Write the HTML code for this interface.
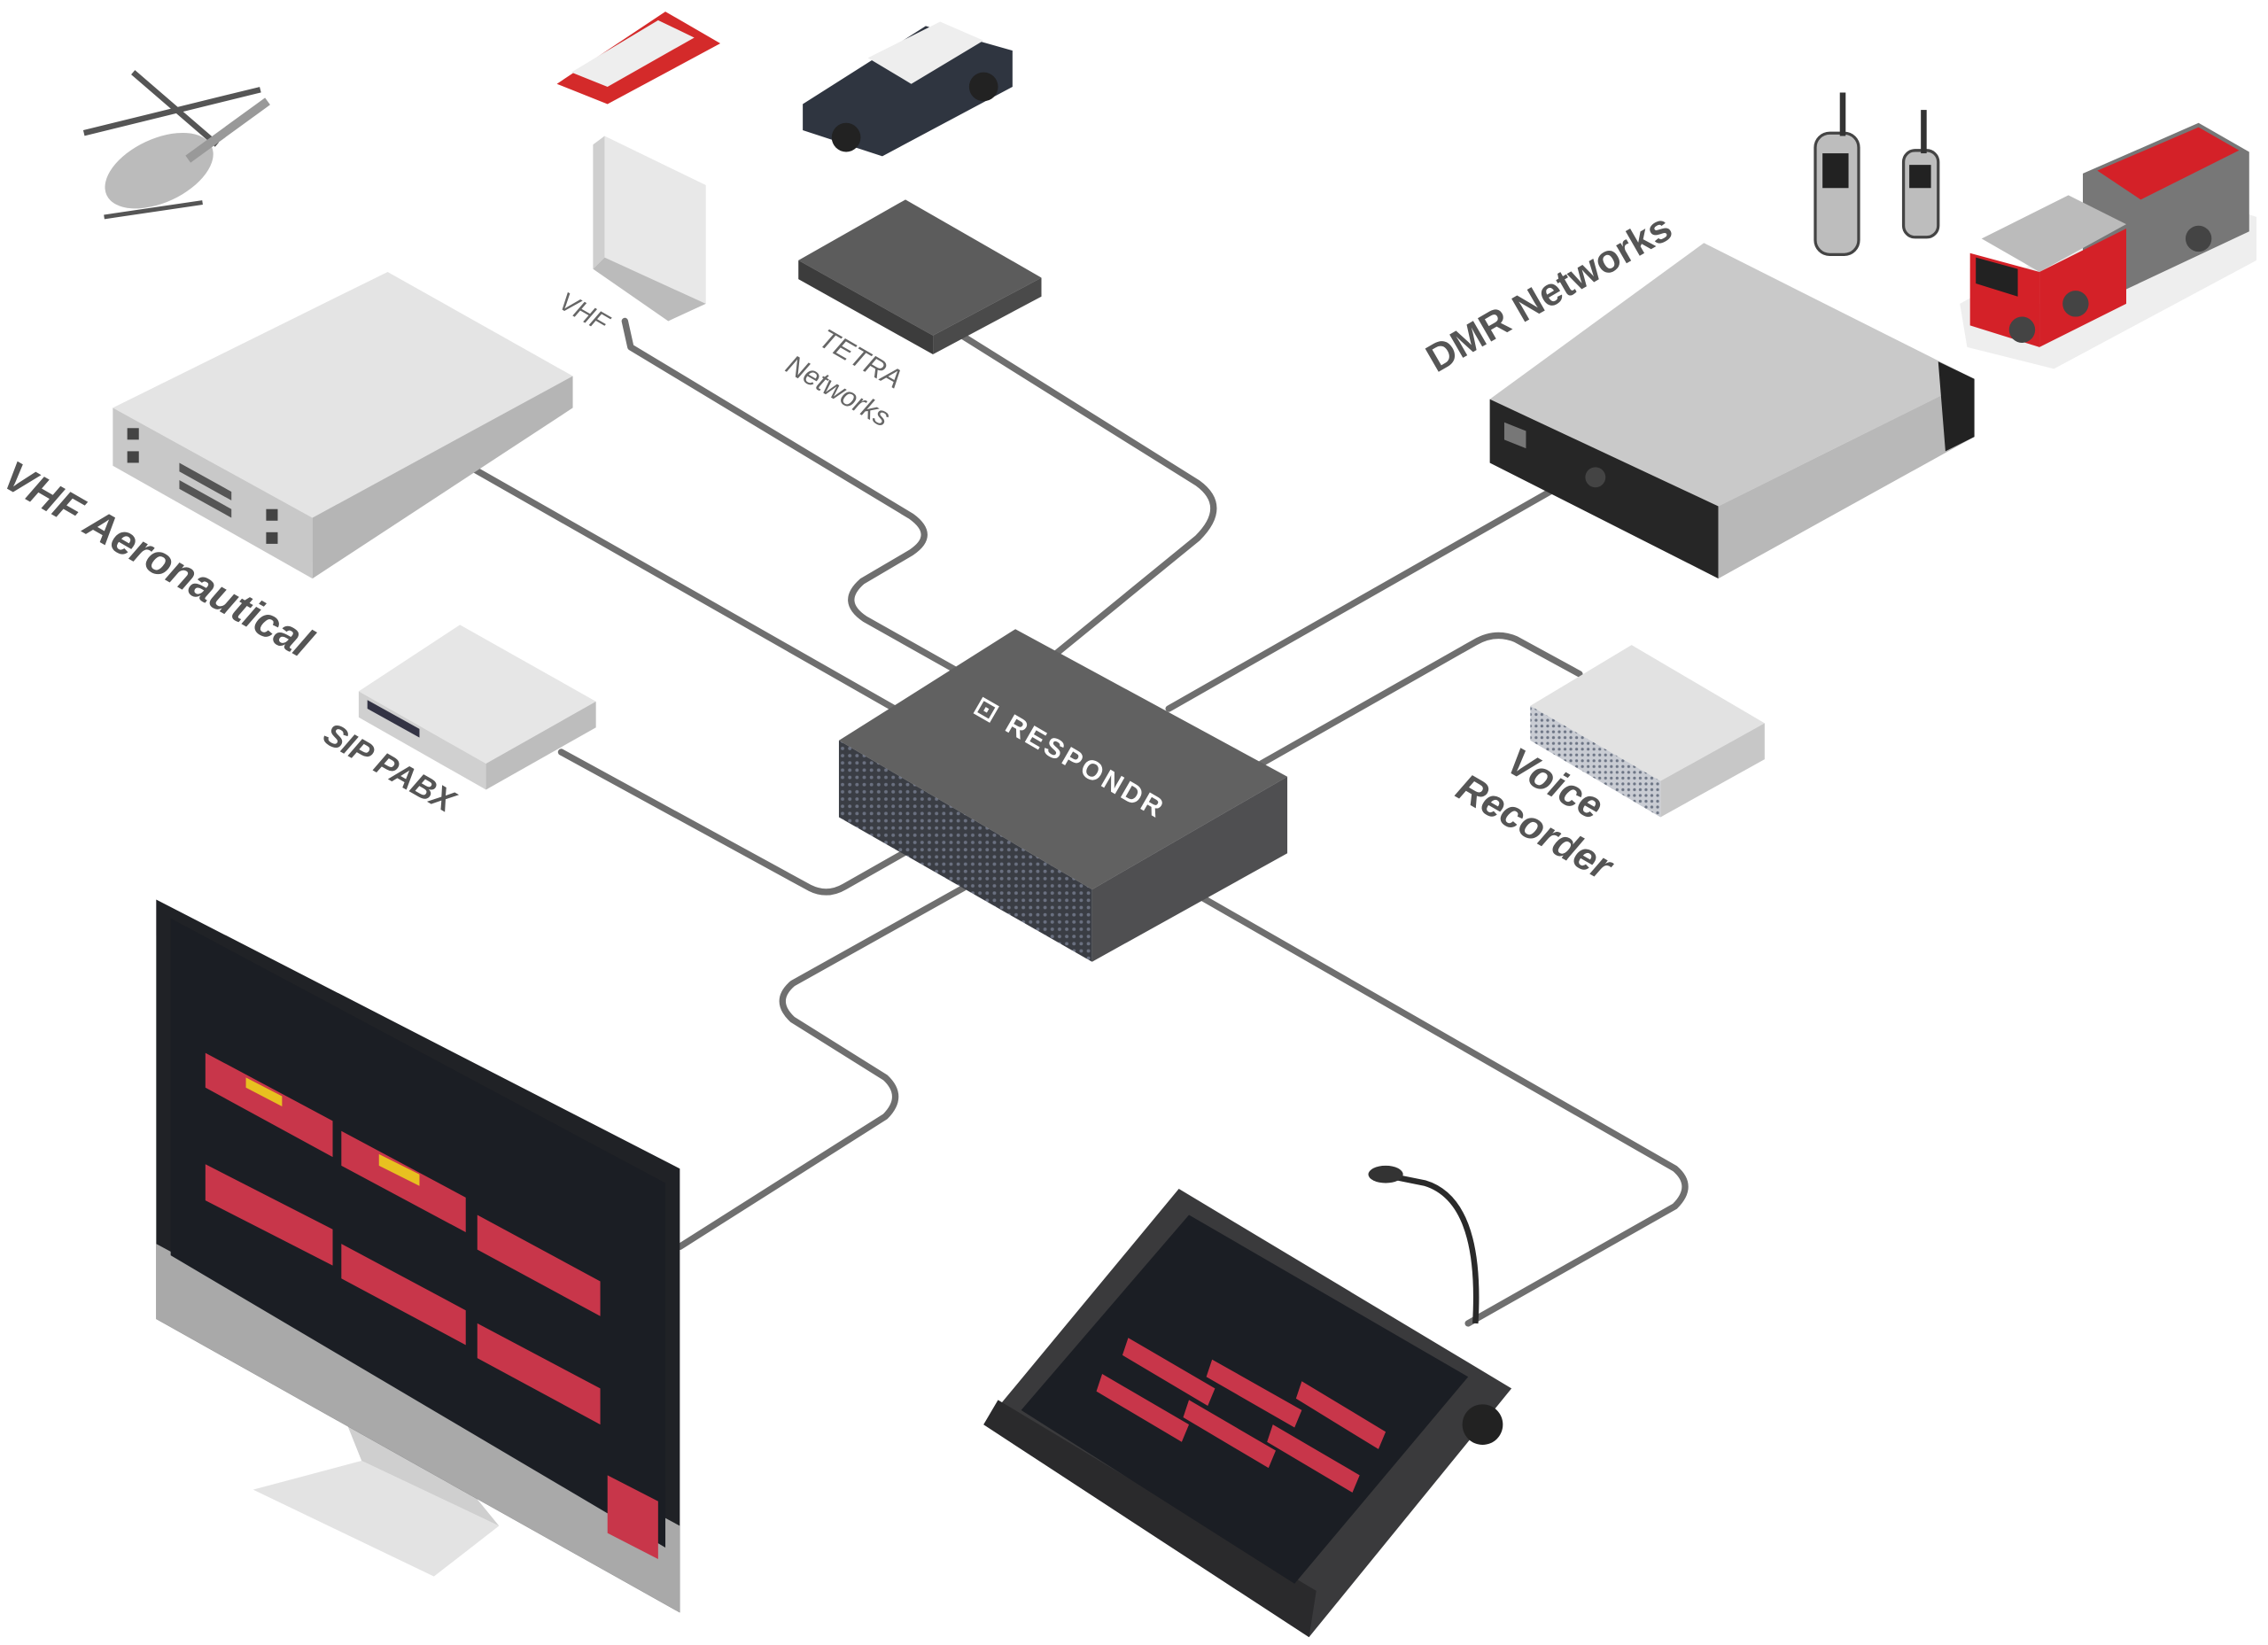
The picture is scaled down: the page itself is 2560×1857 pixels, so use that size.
<!DOCTYPE html>
<html><head><meta charset="utf-8"><style>
html,body{margin:0;padding:0;background:#fff;width:2560px;height:1857px;overflow:hidden}
svg{display:block}
text{font-family:"Liberation Sans",sans-serif;fill:#555}
</style></head><body>
<svg width="2560" height="1857" viewBox="0 0 1568 1137.4" xmlns="http://www.w3.org/2000/svg">
<defs>
<pattern id="dots" width="5" height="5" patternUnits="userSpaceOnUse"><rect width="5" height="5" fill="#3a3d44"/><circle cx="2.5" cy="2.5" r="1.2" fill="#6a7080"/></pattern>
<pattern id="dots2" width="4" height="4" patternUnits="userSpaceOnUse"><rect width="4" height="4" fill="#c9ccd3"/><circle cx="2" cy="2" r="1" fill="#6d7585"/></pattern>
</defs>
<g fill="none" stroke="#6f6f6f" stroke-width="4.5" stroke-linecap="round" stroke-linejoin="round">
<path d="M432 222 L436 240 L630 357 Q648 370 630 382 L596 402 Q580 416 598 428 L662 464"/>
<path d="M665 232 L828 334 Q850 350 828 372 L730 452"/>
<path d="M320 320 L622 492"/>
<path d="M1082 334 L808 490"/>
<path d="M1092 466 L1048 442 Q1034 436 1020 444 L872 528"/>
<path d="M388 520 L560 614 Q572 620 584 613 L628 588"/>
<path d="M666 614 L548 680 Q534 692 548 705 L612 745 Q626 758 612 772 L470 862"/>
<path d="M830 620 L1158 808 Q1172 820 1158 834 L1015 915"/>
</g>
<!-- hub -->
<polygon points="702,435 890,537 755,615 580,512" fill="#616161"/>
<polygon points="580,512 755,615 755,665 580,565" fill="url(#dots)"/>
<polygon points="755,615 890,537 890,590 755,665" fill="#4f4f51"/>
<text transform="translate(672,492) rotate(30)" font-size="19" font-weight="bold" style="fill:#fff;letter-spacing:2px">⊡ RESPONDR</text>
<!-- VHF Aero rack -->
<polygon points="268,188 396,260 216,358 78,282" fill="#e4e4e4"/>
<polygon points="78,282 216,358 216,400 78,322" fill="#c8c8c8"/>
<polygon points="216,358 396,260 396,282 216,400" fill="#b5b5b5"/>
<rect x="88" y="296" width="8" height="8" fill="#444"/><rect x="88" y="312" width="8" height="8" fill="#444"/>
<rect x="184" y="352" width="8" height="8" fill="#444"/><rect x="184" y="368" width="8" height="8" fill="#444"/>
<polygon points="124,320 160,340 160,346 124,326" fill="#555"/><polygon points="124,332 160,352 160,358 124,338" fill="#555"/>
<text transform="translate(0,335) rotate(30)" font-size="29" font-weight="bold" style="fill:#555;font-style:italic">VHF Aeronautical</text>
<!-- VHF antenna -->
<polygon points="418,94 488,128 488,210 418,178" fill="#e8e8e8"/>
<polygon points="410,100 418,94 418,178 410,186" fill="#cfcfcf"/>
<polygon points="410,186 418,178 488,210 462,222" fill="#bbb"/>
<text transform="translate(385,212) rotate(30)" font-size="18" style="fill:#666;font-style:italic">VHF</text>
<!-- TETRA -->
<polygon points="626,138 720,192 645,232 552,180" fill="#5c5c5c"/>
<polygon points="552,180 645,232 645,245 552,193" fill="#3c3c3c"/>
<polygon points="645,232 720,192 720,205 645,245" fill="#4a4a4a"/>
<text transform="translate(565,238) rotate(30)" font-size="19" style="fill:#666;font-style:italic">TETRA</text>
<text transform="translate(542,256) rotate(30)" font-size="19" style="fill:#666;font-style:italic">Networks</text>
<!-- DMR box -->
<polygon points="1178,168 1365,262 1188,350 1030,276" fill="#c9c9c9"/>
<polygon points="1030,276 1188,350 1188,400 1030,320" fill="#262626"/>
<polygon points="1188,350 1365,262 1365,302 1188,400" fill="#b8b8b8"/>
<polygon points="1340,250 1365,262 1365,302 1345,312" fill="#222"/>
<polygon points="1040,292 1055,298 1055,310 1040,304" fill="#777"/>
<circle cx="1103" cy="330" r="7" fill="#444"/>
<text transform="translate(993,258) rotate(-30)" font-size="27" font-weight="bold" style="fill:#555">DMR Networks</text>
<!-- radios -->
<rect x="1255" y="92" width="30" height="84" rx="10" fill="#bdbdbd" stroke="#444" stroke-width="2"/><rect x="1260" y="106" width="18" height="24" fill="#222"/><rect x="1272" y="64" width="4" height="30" fill="#333"/>
<rect x="1316" y="104" width="24" height="60" rx="8" fill="#bdbdbd" stroke="#444" stroke-width="2"/><rect x="1320" y="114" width="15" height="16" fill="#222"/><rect x="1328" y="76" width="4" height="30" fill="#333"/>
<!-- fire truck -->
<polygon points="1355,210 1500,130 1560,150 1560,180 1420,255 1360,240" fill="#eee"/>
<polygon points="1440,120 1520,85 1555,105 1555,160 1470,200 1440,185" fill="#777"/>
<polygon points="1450,118 1520,88 1548,104 1480,138" fill="#d42128"/>
<polygon points="1370,165 1430,135 1470,155 1410,188" fill="#bbb"/>
<polygon points="1362,175 1410,188 1410,240 1362,225" fill="#d42128"/>
<polygon points="1410,188 1470,158 1470,210 1410,240" fill="#d42128"/>
<polygon points="1366,178 1395,186 1395,205 1366,196" fill="#222"/>
<circle cx="1398" cy="228" r="9" fill="#444"/><circle cx="1435" cy="210" r="9" fill="#444"/><circle cx="1520" cy="165" r="9" fill="#444"/>
<!-- helicopter -->
<ellipse cx="110" cy="118" rx="40" ry="22" fill="#bbb" transform="rotate(-25 110 118)"/>
<line x1="58" y1="92" x2="180" y2="62" stroke="#555" stroke-width="4"/><line x1="92" y1="50" x2="150" y2="100" stroke="#555" stroke-width="4"/>
<line x1="130" y1="110" x2="185" y2="70" stroke="#999" stroke-width="6"/>
<line x1="72" y1="150" x2="140" y2="140" stroke="#555" stroke-width="3"/>
<!-- boat -->
<polygon points="385,58 460,8 498,30 420,72" fill="#d42a2a"/><polygon points="395,50 455,14 480,26 420,60" fill="#eee"/>
<!-- police car -->
<polygon points="555,72 640,18 700,35 700,60 610,108 555,90" fill="#2f3540"/><polygon points="600,40 650,15 680,28 630,58" fill="#eee"/>
<circle cx="585" cy="95" r="10" fill="#222"/><circle cx="680" cy="60" r="10" fill="#222"/>
<!-- SIP PABX -->
<polygon points="318,432 412,485 336,528 248,478" fill="#e6e6e6"/>
<polygon points="248,478 336,528 336,546 248,496" fill="#d0d0d0"/>
<polygon points="336,528 412,485 412,503 336,546" fill="#bdbdbd"/>
<polygon points="254,484 290,504 290,510 254,490" fill="#334"/>
<text transform="translate(222,512) rotate(30)" font-size="22" font-weight="bold" style="fill:#555;font-style:italic">SIP PABX</text>
<!-- Voice recorder -->
<polygon points="1128,446 1220,500 1148,540 1058,488" fill="#e2e2e2"/>
<polygon points="1058,488 1148,540 1148,565 1058,512" fill="url(#dots2)"/>
<polygon points="1148,540 1220,500 1220,525 1148,565" fill="#c7c7c7"/>
<text transform="translate(1040,532) rotate(30)" font-size="27" font-weight="bold" style="fill:#555;font-style:italic">Voice</text>
<text transform="translate(1005,550) rotate(30)" font-size="27" font-weight="bold" style="fill:#555;font-style:italic">Recorder</text>
<!-- monitor -->
<polygon points="250,1010 345,1055 300,1090 175,1030" fill="#e3e3e3"/>
<polygon points="230,960 300,1000 345,1055 250,1010" fill="#cfcfcf"/>
<polygon points="108,622 470,808 470,1115 108,912" fill="#202226"/>
<polygon points="108,860 470,1055 470,1115 108,912" fill="#a9a9a9"/>
<polygon points="118,635 460,818 460,1070 118,868" fill="#1b1e24"/>
<polygon points="142,728 230,775 230,800 142,752" fill="#c8364a"/>
<polygon points="142,805 230,850 230,875 142,830" fill="#c8364a"/>
<polygon points="236,782 322,828 322,852 236,806" fill="#c8364a"/>
<polygon points="236,860 322,906 322,930 236,884" fill="#c8364a"/>
<polygon points="330,840 415,886 415,910 330,864" fill="#c8364a"/>
<polygon points="330,915 415,960 415,985 330,939" fill="#c8364a"/>
<polygon points="420,1020 455,1038 455,1078 420,1060" fill="#c8364a"/>
<polygon points="170,745 195,758 195,765 170,752" fill="#e8c020"/>
<polygon points="262,798 290,812 290,820 262,806" fill="#e8c020"/>
<!-- console -->
<polygon points="815,822 1045,960 905,1132 680,985" fill="#3a3a3c"/>
<polygon points="680,985 905,1132 910,1100 690,968" fill="#2a2a2c"/>
<polygon points="822,840 1015,952 895,1095 706,975" fill="#1b1e24"/>
<polygon points="780,925 840,960 835,972 776,937" fill="#c8364a"/>
<polygon points="838,940 900,975 895,987 834,952" fill="#c8364a"/>
<polygon points="900,955 958,990 953,1002 896,967" fill="#c8364a"/>
<polygon points="762,950 822,985 817,997 758,962" fill="#c8364a"/>
<polygon points="822,968 882,1003 877,1015 818,980" fill="#c8364a"/>
<polygon points="880,985 940,1020 935,1032 876,997" fill="#c8364a"/>
<path d="M1020 915 Q1025 830 985 818 L955 812" fill="none" stroke="#2a2a2a" stroke-width="4"/>
<ellipse cx="958" cy="812" rx="12" ry="6" fill="#333"/>
<circle cx="1025" cy="985" r="14" fill="#222"/>
</svg>
</body></html>
